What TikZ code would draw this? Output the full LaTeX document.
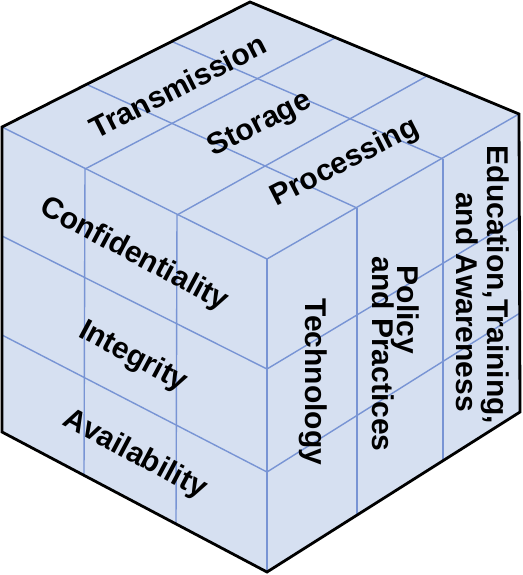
\documentclass[tikz,border=0pt]{standalone}
\usepackage{fontspec}
\setmainfont{Liberation Sans}
\definecolor{cubefill}{RGB}{214,224,241}
\definecolor{gridblue}{RGB}{120,148,212}
\begin{document}
\begin{tikzpicture}[x=1pt,y=-1pt,
  grid/.style={draw=gridblue, line width=1.4pt},
  frontedge/.style={draw=gridblue, line width=2.6pt},
  outline/.style={draw=black, line width=2.8pt, line join=miter},
  lbl/.style={font=\fontsize{30}{32}\selectfont\bfseries, inner sep=0pt}]
\useasboundingbox (0,0) rectangle (522,575);
% corners
\coordinate (L1) at (2,127);
\coordinate (B) at (250,2);
\coordinate (R1) at (519,114);
\coordinate (F) at (267,259);
\coordinate (L2) at (2,432);
\coordinate (F2) at (267,572);
\coordinate (R2) at (520,412);
\fill[cubefill] (L1) -- (B) -- (R1) -- (R2) -- (F2) -- (L2) -- cycle;
% top face grid
\coordinate (t1) at (88,85);
\coordinate (t2) at (173,42);
\coordinate (t3) at (335,38);
\coordinate (t4) at (427,76);
\coordinate (lv1) at (85,169);
\coordinate (lv2) at (177,215);
\coordinate (rv1) at (357,208);
\coordinate (rv2) at (443,159);
\draw[grid] (t1) -- (rv1);
\draw[grid] (t2) -- (rv2);
\draw[grid] (t3) -- (lv1);
\draw[grid] (t4) -- (lv2);
\draw[grid] (L1) -- (F) -- (R1);
% left face grid
\coordinate (lb1) at (84,475);
\coordinate (lb2) at (176,524);
\coordinate (lh1) at (2,236);
\coordinate (lh2) at (2,335);
\coordinate (fh1) at (267,369);
\coordinate (fh2) at (267,472);
\draw[grid] (lv1) -- (lb1);
\draw[grid] (lv2) -- (lb2);
\draw[grid] (lh1) -- (fh1);
\draw[grid] (lh2) -- (fh2);
% right face grid
\coordinate (rb1) at (357,515);
\coordinate (rb2) at (443,461);
\coordinate (rh1) at (520,217);
\coordinate (rh2) at (520,313);
\draw[grid] (rv1) -- (rb1);
\draw[grid] (rv2) -- (rb2);
\draw[grid] (fh1) -- (rh1);
\draw[grid] (fh2) -- (rh2);
\draw[frontedge] (F) -- (F2);
% outline
\draw[outline] (L1) -- (B) -- (R1) -- (R2) -- (F2) -- (L2) -- cycle;
% labels top
\node[lbl, rotate=27] (trans) at (178,86) {Transmission};
\node[lbl, rotate=27] (stor) at (260,125) {Storage};
\node[lbl, rotate=27] (proc) at (345,163) {Processing};
% labels left
\node[lbl, rotate=-28] (conf) at (134,255) {Confidentiality};
\node[lbl, rotate=-28] (integ) at (133,357) {Integrity};
\node[lbl, rotate=-28] (avail) at (135,455) {Availability};
% labels right
\node[lbl, rotate=-90] (tech) at (313,382) {Technology};
\node[lbl, rotate=-90] (policy) at (405,310) {Policy};
\node[lbl, rotate=-90] (practices) at (383,354) {and Practices};
\node[lbl, rotate=-90] (edu) at (495,285) {Education,Training,};
\node[lbl, rotate=-90] (aware) at (467,302) {and Awareness};
\end{tikzpicture}
\end{document}
